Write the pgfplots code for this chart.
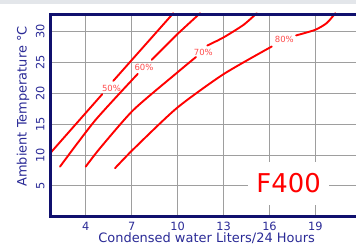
\documentclass[border=0pt]{standalone}
\usepackage{pgfplots}
\pgfplotsset{compat=1.18}
\usepackage{fontspec}
\setmainfont{DejaVu Sans}
\definecolor{navyax}{HTML}{10106E}
\definecolor{navytxt}{HTML}{2A2A96}
\definecolor{pctred}{HTML}{FF4B4B}
\definecolor{topgray}{HTML}{E3E6EA}
\tikzset{rline/.style={red, line width=1.9bp, line cap=round, mark=none, smooth, tension=0.4}}
\begin{document}
\begin{tikzpicture}
\begin{axis}[
  at={(0,0)}, anchor=south west,
  scale only axis, width=305.5bp, height=202.5bp,
  xmin=1.70, xmax=21.65, ymin=0, ymax=32.84,
  axis line style={draw=none},
  clip=false,
  xtick={4,7,10,13,16,19}, ytick={5,10,15,20,25,30},
  major tick length=0pt,
  grid=major,
  major grid style={color=black!38, line width=0.9bp},
  /pgf/number format/assume math mode=true,
  ticklabel style={font=\fontsize{11.4}{12}\selectfont, text=navytxt},
  xticklabel style={anchor=base, yshift=-13.3bp, inner sep=0pt},
  yticklabel style={xshift=-6.2bp, rotate=90, anchor=base, inner sep=0pt},
  xlabel={Condensed water Liters/24 Hours},
  ylabel={Ambient Temperature °C},
  xlabel style={font=\fontsize{13}{14}\selectfont, text=navytxt, at={(axis description cs:0.511,0)}, anchor=base, yshift=-25.8bp, inner sep=0pt},
  ylabel style={font=\fontsize{13}{14}\selectfont, text=navytxt, at={(axis description cs:0,0.545)}, anchor=base, yshift=23.8bp, inner sep=0pt},
]
% 50%
\addplot[rline] coordinates {(1.70,10.35) (5.08,19.87)};
\addplot[rline] coordinates {(5.80,22.03) (9.72,33)};
% 60%
\addplot[rline] coordinates {(2.32,8.12) (4.61,15.6) (7.40,23.17)};
\addplot[rline] coordinates {(8.31,25.44) (9.90,29.4) (11.47,33)};
% 70%
\addplot[rline] coordinates {(4.00,8.12) (4.93,11.1) (7.11,17.3) (9.94,23.3) (11.20,25.9)};
\addplot[rline] coordinates {(11.94,27.76) (12.99,29.06) (14.30,31.1) (15.17,33)};
% 80%
\addplot[rline] coordinates {(5.91,7.86) (7.11,10.94) (9.94,17.6) (12.99,23.1) (16.15,27.6)};
\addplot[rline] coordinates {(17.74,29.4) (18.98,30.3) (19.74,31.4) (20.30,33)};
\node[text=pctred, font=\fontsize{8.5}{9}\selectfont, inner sep=0pt] at (axis cs:5.68,20.84) {50\%};
\node[text=pctred, font=\fontsize{8.5}{9}\selectfont, inner sep=0pt] at (axis cs:7.80,24.25) {60\%};
\node[text=pctred, font=\fontsize{8.5}{9}\selectfont, inner sep=0pt] at (axis cs:11.68,26.6) {70\%};
\node[text=pctred, font=\fontsize{8.5}{9}\selectfont, inner sep=0pt] at (axis cs:16.97,28.8) {80\%};
\node[fill=white, minimum width=81bp, minimum height=43bp, inner sep=0pt, text=red, font=\fontsize{26}{28}\selectfont] at (axis cs:17.25,5.42) {F400};
\draw[navyax, line width=2.8bp, line join=miter] (rel axis cs:1.02,1) -- (rel axis cs:0,1) -- (rel axis cs:0,0) -- (rel axis cs:1.02,0);
\end{axis}
\fill[topgray] (-50.5bp,212.7bp) rectangle (305.5bp,216.7bp);
\pgfresetboundingbox
\path[use as bounding box] (-50.5bp,-28.3bp) rectangle (305.5bp,216.7bp);
\end{tikzpicture}
\end{document}
